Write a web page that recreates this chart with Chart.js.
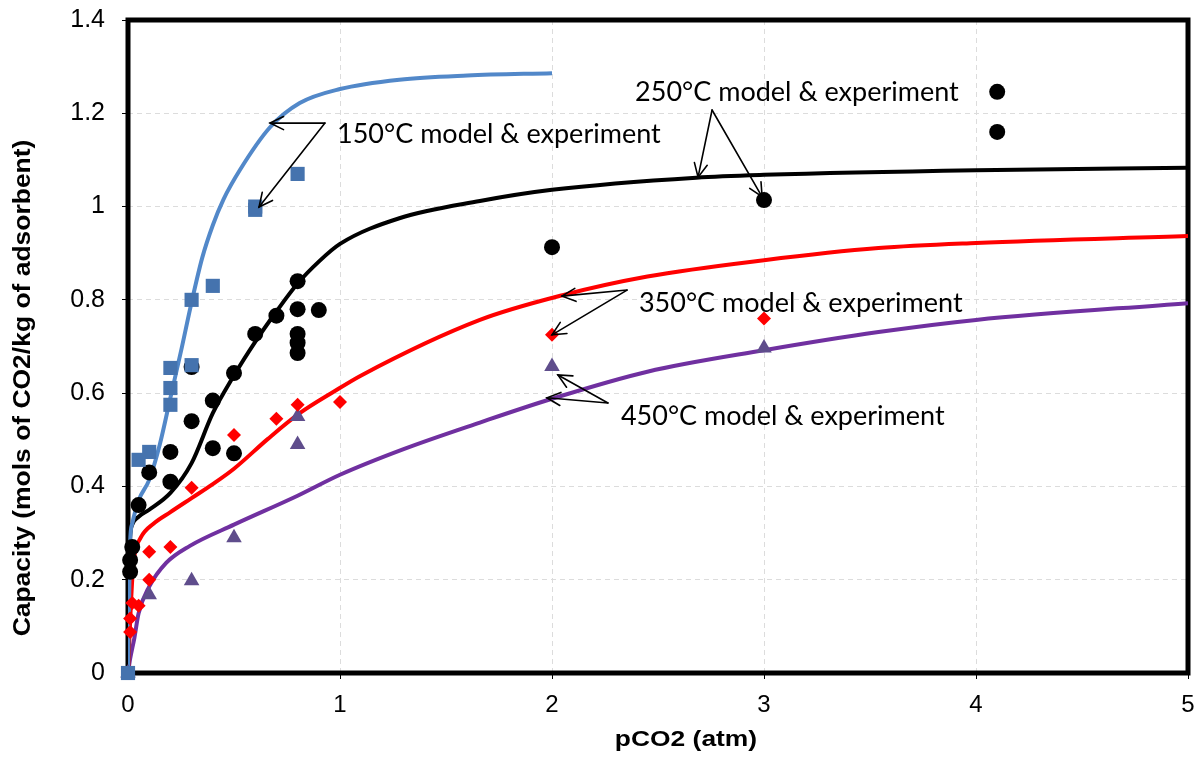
<!DOCTYPE html>
<html>
<head>
<meta charset="utf-8">
<script src="https://cdn.jsdelivr.net/npm/chart.js@4.4.1/dist/chart.umd.min.js"></script>
<style>
body { margin: 0; background: #fff; }
#wrap { width: 1200px; height: 757px; }
</style>
</head>
<body>
<div id="wrap"><canvas id="myChart"></canvas></div>
<script>
// ---- experiment points ----
const exp150X = [0, 0.05, 0.1, 0.2, 0.2, 0.2, 0.3, 0.3, 0.4, 0.6, 0.6, 0.8];
const exp150Y = [0, 0.457, 0.474, 0.654, 0.611, 0.575, 0.66, 0.80, 0.83, 0.993, 1.0, 1.07];

const exp250X = [0.01, 0.01, 0.02, 0.05, 0.1, 0.2, 0.2, 0.3, 0.3, 0.4, 0.4, 0.5, 0.5, 0.6, 0.7, 0.8, 0.8, 0.8, 0.8, 0.8, 0.9, 2, 3, 4.1, 4.1];
const exp250Y = [0.217, 0.242, 0.27, 0.36, 0.43, 0.41, 0.474, 0.54, 0.656, 0.584, 0.482, 0.643, 0.471, 0.727, 0.766, 0.84, 0.78, 0.727, 0.708, 0.686, 0.778, 0.913, 1.014, 1.246, 1.16];

const exp350X = [0, 0.01, 0.01, 0.02, 0.05, 0.1, 0.1, 0.2, 0.3, 0.5, 0.7, 0.8, 1.0, 2, 3];
const exp350Y = [0, 0.088, 0.117, 0.15, 0.144, 0.26, 0.2, 0.27, 0.397, 0.51, 0.545, 0.575, 0.581, 0.725, 0.76];

const exp450X = [0, 0.1, 0.3, 0.5, 0.8, 0.8, 2, 3];
const exp450Y = [0, 0.168, 0.198, 0.29, 0.49, 0.55, 0.657, 0.697];

// ---- model curves ----
const mod150X = [0, 0.01, 0.02, 0.05, 0.1, 0.15, 0.2, 0.25, 0.3, 0.35, 0.4, 0.45, 0.53, 0.67, 0.81, 1.0, 1.28, 1.6, 2.0];
const mod150Y = [0, 0.28, 0.32, 0.37, 0.414, 0.49, 0.59, 0.69, 0.795, 0.89, 0.96, 1.015, 1.08, 1.17, 1.222, 1.252, 1.272, 1.281, 1.286];

const mod250X = [0, 0.005, 0.01, 0.02, 0.05, 0.1, 0.2, 0.3, 0.4, 0.5, 0.6, 0.7, 0.8, 0.9, 1.0, 1.28, 1.66, 2.0, 2.68, 3.0, 4.0, 5.0];
const mod250Y = [0, 0.2, 0.29, 0.318, 0.335, 0.35, 0.386, 0.45, 0.557, 0.638, 0.71, 0.775, 0.835, 0.882, 0.92, 0.975, 1.012, 1.036, 1.062, 1.068, 1.078, 1.083];

const mod350X = [0, 0.01, 0.02, 0.03, 0.06, 0.12, 0.2, 0.3, 0.4, 0.5, 0.66, 0.81, 0.97, 1.1, 1.66, 2.05, 2.45, 3.0, 3.54, 4.0, 5.0];
const mod350Y = [0, 0.11, 0.2, 0.25, 0.29, 0.32, 0.345, 0.375, 0.405, 0.438, 0.502, 0.557, 0.603, 0.638, 0.757, 0.81, 0.85, 0.885, 0.911, 0.922, 0.937];

const mod450X = [0, 0.01, 0.03, 0.05, 0.1, 0.18, 0.29, 0.5, 0.8, 1.0, 1.3, 1.66, 2.0, 2.45, 3.0, 3.54, 4.0, 5.0];
const mod450Y = [0, 0.03, 0.075, 0.128, 0.185, 0.236, 0.272, 0.318, 0.38, 0.425, 0.48, 0.537, 0.588, 0.646, 0.692, 0.731, 0.757, 0.793];

// ---- annotations (data units) ----
const noteTexts = ['150°C model & experiment', '250°C model & experiment', '350°C model & experiment', '450°C model & experiment'];
const notePos = [[0.986, 1.136], [2.392, 1.226], [2.41, 0.774], [2.325, 0.532]];
const arrowFrom = [[0.929, 1.179], [2.755, 1.207], [2.354, 0.821], [2.264, 0.579]];
const arrowTo = [
	[[0.670, 1.179], [0.618, 0.999]],
	[[2.689, 1.063], [2.991, 1.021]],
	[[2.047, 0.808], [2.0, 0.725]],
	[[1.976, 0.590], [2.028, 0.639]]
];

const xTitle = 'pCO2 (atm)';
const yTitle = 'Capacity (mols of CO2/kg of adsorbent)';

function toPoints(xs, ys) {
	return xs.map((x, i) => ({ x: x, y: ys[i] }));
}

function lineSet(xs, ys, color) {
	return {
		data: toPoints(xs, ys),
		showLine: true,
		borderColor: color,
		borderWidth: 4,
		pointRadius: 0,
		cubicInterpolationMode: 'monotone',
		order: 2
	};
}

function pointSet(xs, ys, color, style, r) {
	return {
		data: toPoints(xs, ys),
		showLine: false,
		backgroundColor: color,
		borderColor: color,
		borderWidth: 0,
		pointStyle: style,
		pointRadius: r,
		clip: false,
		order: 1
	};
}

function drawArrow(c, x1, y1, x2, y2) {
	c.beginPath();
	c.moveTo(x1, y1);
	c.lineTo(x2, y2);
	c.stroke();
	const a = Math.atan2(y2 - y1, x2 - x1);
	const L = 15, sp = 0.45;
	c.beginPath();
	c.moveTo(x2 - L * Math.cos(a - sp), y2 - L * Math.sin(a - sp));
	c.lineTo(x2, y2);
	c.lineTo(x2 - L * Math.cos(a + sp), y2 - L * Math.sin(a + sp));
	c.stroke();
}

const framePlugin = {
	id: 'frame',
	beforeDatasetsDraw(chart) {
		const c = chart.ctx;
		const a = chart.chartArea;
		c.save();
		c.strokeStyle = '#000';
		c.lineWidth = 5;
		c.strokeRect(a.left, a.top, a.right - a.left, a.bottom - a.top);
		c.restore();
	}
};

const notesPlugin = {
	id: 'notes',
	afterDraw(chart) {
		const c = chart.ctx;
		const xs = chart.scales.x;
		const ys = chart.scales.y;
		c.save();
		c.strokeStyle = '#000';
		c.lineWidth = 1.6;
		c.lineCap = 'round';
		for (let i = 0; i < arrowFrom.length; i++) {
			const fx = xs.getPixelForValue(arrowFrom[i][0]);
			const fy = ys.getPixelForValue(arrowFrom[i][1]);
			for (const t of arrowTo[i]) {
				drawArrow(c, fx, fy, xs.getPixelForValue(t[0]), ys.getPixelForValue(t[1]));
			}
		}
		c.fillStyle = '#000';
		c.font = '27px Lato';
		c.textAlign = 'left';
		c.textBaseline = 'alphabetic';
		for (let i = 0; i < noteTexts.length; i++) {
			c.fillText(noteTexts[i], xs.getPixelForValue(notePos[i][0]), ys.getPixelForValue(notePos[i][1]));
		}
		// axis titles (stretched like the original)
		c.font = 'bold 22px "Liberation Sans", Arial';
		c.textAlign = 'center';
		c.save();
		c.translate(686, 746);
		c.scale(1.2, 1);
		c.fillText(xTitle, 0, 0);
		c.restore();
		c.save();
		c.translate(24, 388);
		c.rotate(-Math.PI / 2);
		c.scale(1.15, 1);
		c.textBaseline = 'middle';
		c.font = 'bold 23px "Liberation Sans", Arial';
		c.fillText(yTitle, 0, 0);
		c.restore();
		c.restore();
	}
};

const ctx = document.getElementById('myChart');

new Chart(ctx, {
	type: 'scatter',
	data: {
		datasets: [
			lineSet(mod150X, mod150Y, '#5288c9'),
			lineSet(mod250X, mod250Y, '#000000'),
			lineSet(mod350X, mod350Y, '#ff0000'),
			lineSet(mod450X, mod450Y, '#7030a0'),
			pointSet(exp150X, exp150Y, '#4573ae', 'rect', 10),
			pointSet(exp250X, exp250Y, '#000000', 'circle', 8),
			pointSet(exp350X, exp350Y, '#ff0000', 'rectRot', 7),
			pointSet(exp450X, exp450Y, '#5f4d8c', 'triangle', 9)
		]
	},
	options: {
		responsive: true,
		maintainAspectRatio: false,
		animation: false,
		layout: { padding: { top: 20, right: 12, left: 0, bottom: 0 } },
		plugins: {
			legend: { display: false },
			tooltip: { enabled: false }
		},
		scales: {
			x: {
				type: 'linear',
				min: 0,
				max: 5,
				afterFit: s => { s.height = 84; s.paddingLeft = 0; s.paddingRight = 0; },
				ticks: { stepSize: 1, color: '#000', padding: 12, font: { family: 'Liberation Sans', size: 24 } },
				grid: { color: '#dcdcdc', tickColor: '#000', tickLength: 6, tickBorderDash: [] },
				border: { display: false, dash: [5, 4] }
			},
			y: {
				min: 0,
				max: 1.4,
				afterFit: s => { s.width = 128; s.paddingTop = 0; s.paddingBottom = 0; },
				ticks: {
					stepSize: 0.2, color: '#000', padding: 17,
					font: { family: 'Liberation Sans', size: 25 },
					callback: v => String(Math.round(v * 10) / 10)
				},
				grid: { color: '#dcdcdc', tickColor: '#000', tickLength: 6, tickBorderDash: [] },
				border: { display: false, dash: [5, 4] }
			}
		}
	},
	plugins: [framePlugin, notesPlugin]
});
</script>
</body>
</html>
